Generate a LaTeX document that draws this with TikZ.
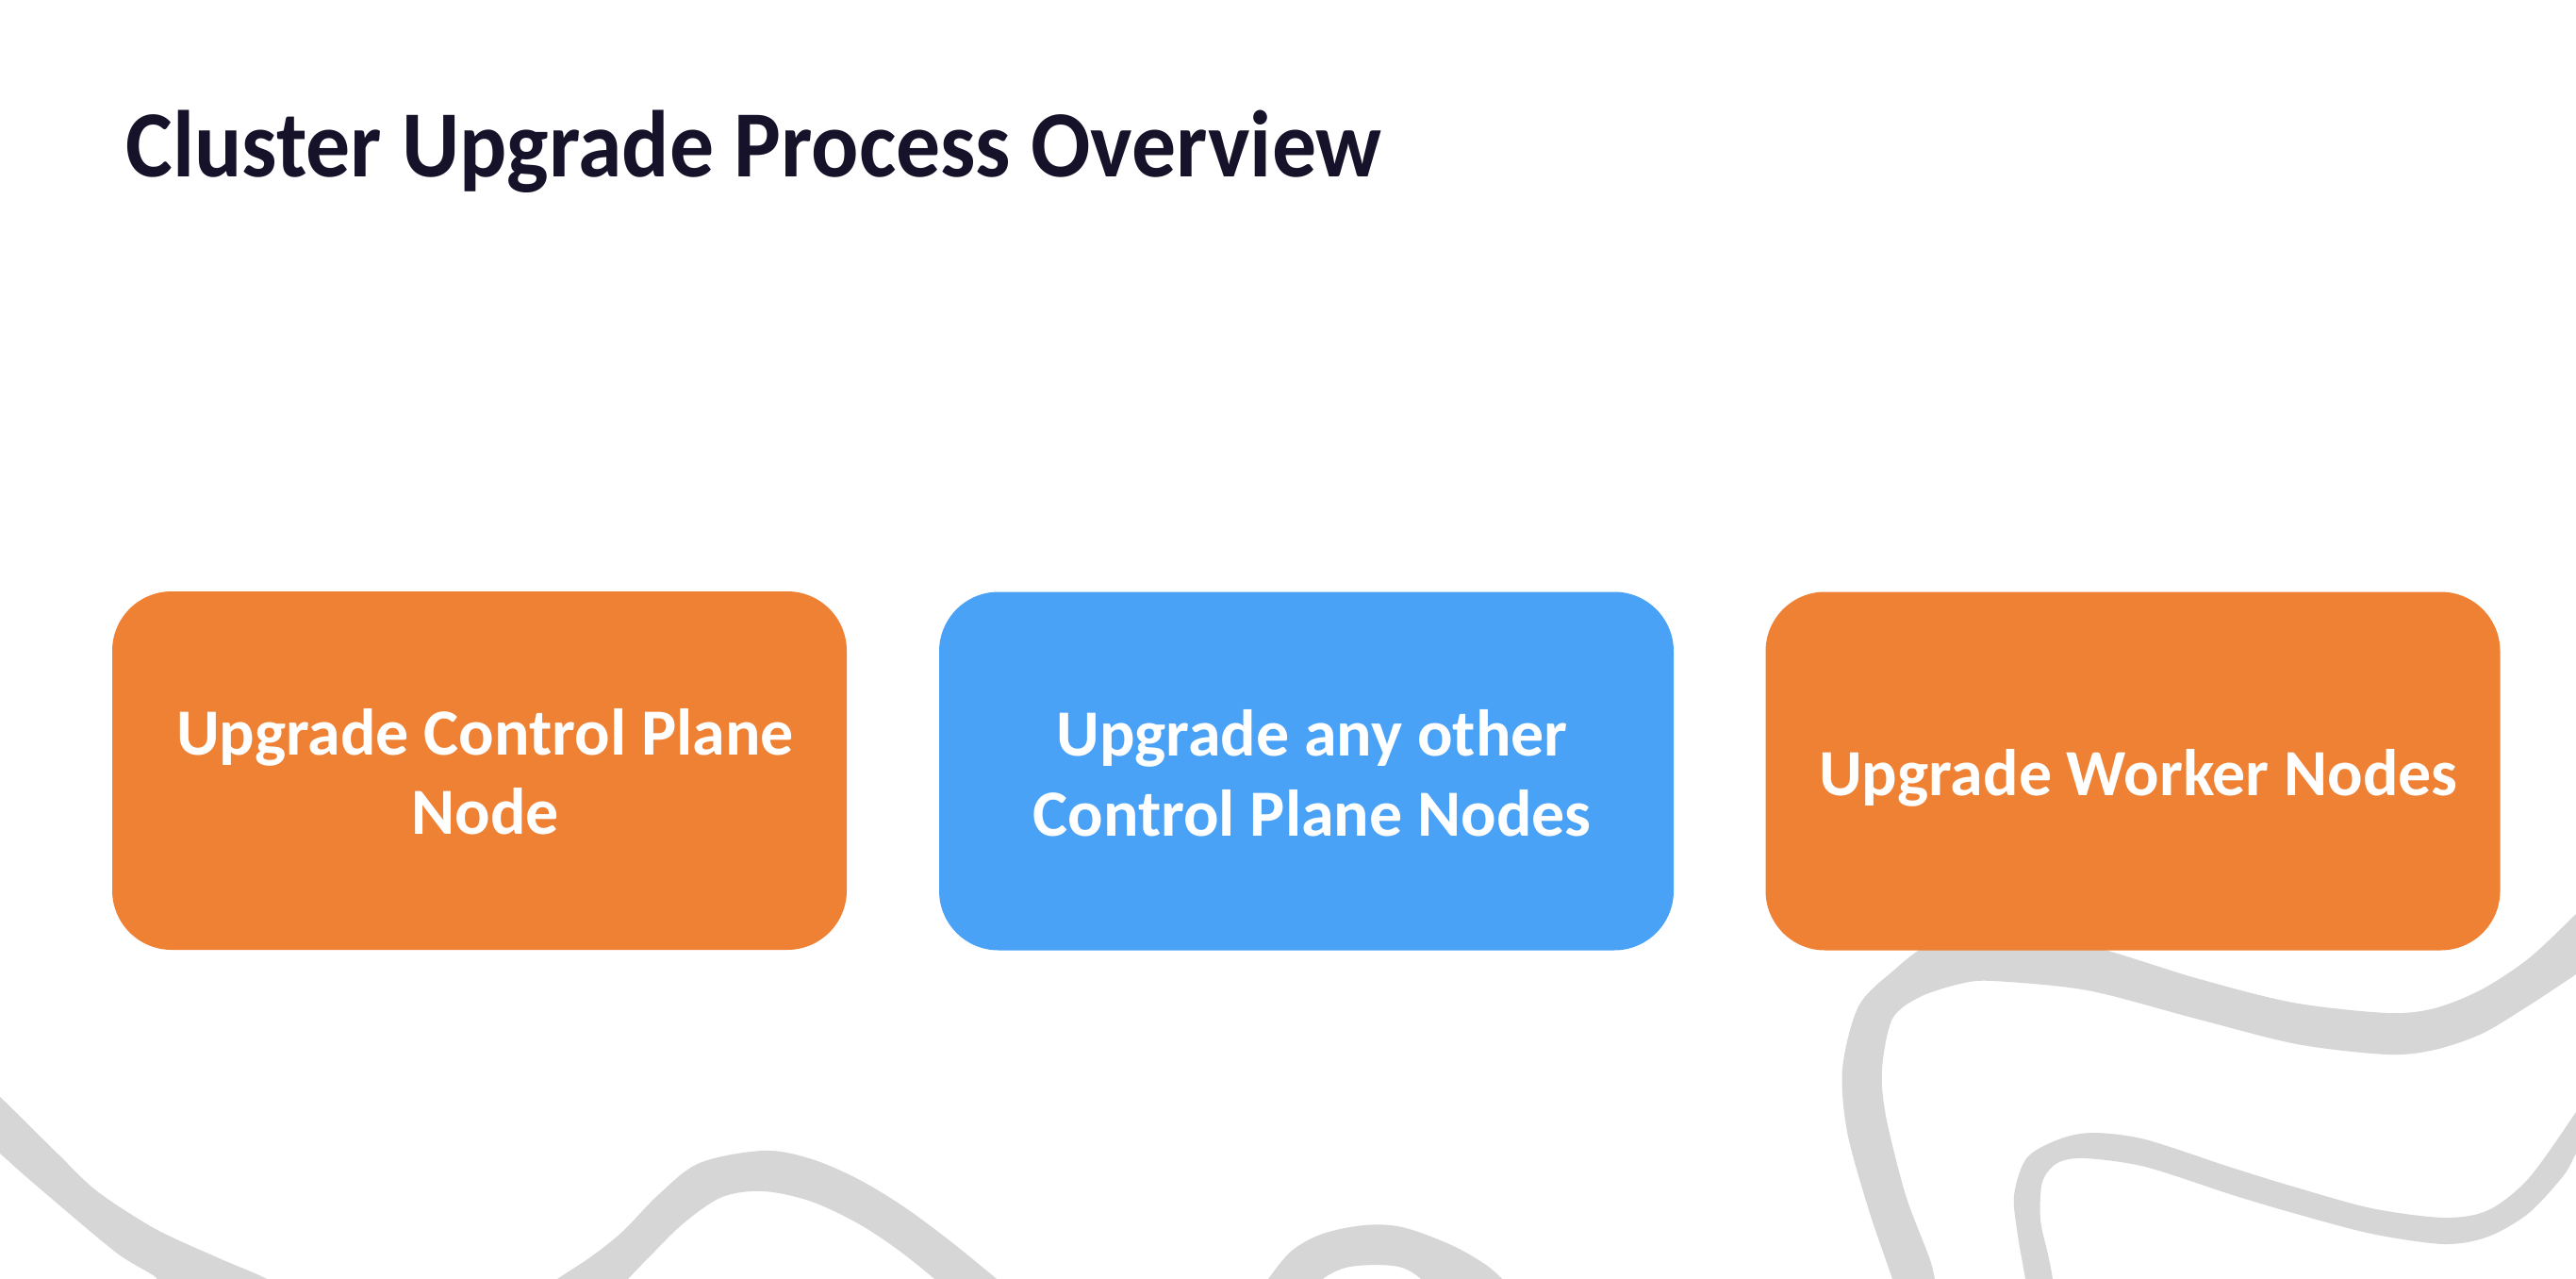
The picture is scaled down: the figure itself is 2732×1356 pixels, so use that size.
\documentclass[tikz,border=0pt]{standalone}
\usepackage{fontspec}
\setmainfont{Carlito}
\usepackage{graphicx}
\definecolor{orng}{RGB}{238,129,51}
\definecolor{blu}{RGB}{74,162,247}
\definecolor{swirl}{RGB}{214,214,214}
\definecolor{ttl}{RGB}{22,18,42}
\tikzset{
  box/.style={rounded corners=6.3mm, minimum width=77.9mm, minimum height=38mm, inner sep=0pt, draw=none},
  boxtext/.style={text=white, font=\fontsize{19.9pt}{23.9pt}\selectfont\bfseries, anchor=base, inner sep=0pt},
  titletext/.style={text=ttl, font=\fontsize{28.6pt}{34pt}\selectfont\bfseries, anchor=base west, inner sep=0pt},
  swirlfill/.style={fill=swirl}
}
\begin{document}
\begin{tikzpicture}[x=0.1mm,y=-0.1mm]
\useasboundingbox (0,0) rectangle (2732,1356);
\fill[white] (0,0) rectangle (2732,1356);
\begin{scope}
\clip (0,0) rectangle (2732,1356);
% left stroke
\fill[swirlfill] plot[smooth cycle, tension=0.5] coordinates {
 (-20,1148) (0,1163) (61,1223) (103,1263) (165,1303) (230,1333) (283,1356) (300,1372)
 (175,1372) (165,1354) (122,1327) (34,1253) (0,1223) (-20,1208)};
% arch 1
\fill[swirlfill] plot[smooth cycle, tension=0.55] coordinates {
 (570,1372) (591,1356) (626,1333) (660,1306) (699,1266) (742,1233) (809,1220) (858,1228)
 (908,1249) (958,1279) (1008,1316) (1057,1356) (1075,1372)
 (1005,1372) (991,1356) (951,1324) (908,1296) (858,1273) (809,1263) (766,1269) (726,1296)
 (693,1328) (666,1356) (652,1372)};
% arch 2
\fill[swirlfill] plot[smooth cycle, tension=0.55] coordinates {
 (1336,1372) (1345,1356) (1370,1326) (1403,1308) (1447,1299) (1487,1301) (1537,1319) (1573,1339)
 (1593,1356) (1603,1372)
 (1515,1372) (1507,1356) (1487,1344) (1460,1341) (1427,1344) (1403,1356) (1395,1372)};
% right outer band
\fill[swirlfill] plot[smooth cycle, tension=0.5] coordinates {
 (2012,1375) (2007,1356) (1982,1283) (1959,1200) (1954,1133) (1971,1067) (2007,1030) (2050,1000)
 (2130,988) (2221,1004) (2329,1037) (2432,1063) (2532,1074) (2582,1069) (2632,1049) (2682,1016)
 (2732,969) (2755,945)
 (2755,1018) (2732,1033) (2682,1066) (2632,1096) (2582,1113) (2532,1118) (2436,1107) (2329,1080)
 (2214,1050) (2114,1040) (2079,1043) (2036,1057) (2007,1080) (1996,1133) (2000,1183) (2021,1267)
 (2046,1333) (2052,1356) (2056,1375)};
% inner loop
\fill[swirlfill] plot[smooth cycle, tension=0.5] coordinates {
 (2150,1375) (2148,1356) (2140,1310) (2136,1267) (2150,1227) (2186,1207) (2221,1201) (2275,1208)
 (2364,1237) (2432,1258) (2515,1281) (2592,1291) (2639,1283) (2682,1249) (2732,1179) (2752,1148)
 (2752,1192) (2732,1223) (2719,1246) (2682,1286) (2639,1311) (2592,1319) (2515,1308) (2432,1286)
 (2368,1267) (2275,1237) (2211,1228) (2182,1233) (2166,1253) (2164,1293) (2172,1330) (2177,1356)
 (2179,1375)};
\end{scope}
% title
\node[titletext] (title) at (133,188) {\scalebox{0.933}[1]{Cluster Upgrade Process Overview}};
% boxes
\node[box, fill=orng] (b1) at (508.5,817) {};
\node[box, fill=blu]  (b2) at (1385.5,817.5) {};
\node[box, fill=orng] (b3) at (2262,817.5) {};
% box texts
\node[boxtext] (t1a) at (514.5,800) {Upgrade Control Plane};
\node[boxtext] (t1b) at (514.5,884) {Node};
\node[boxtext] (t2a) at (1391.5,801) {Upgrade any other};
\node[boxtext] (t2b) at (1391.5,886) {Control Plane Nodes};
\node[boxtext] (t3)  at (2268,843) {Upgrade Worker Nodes};
\end{tikzpicture}
\end{document}
